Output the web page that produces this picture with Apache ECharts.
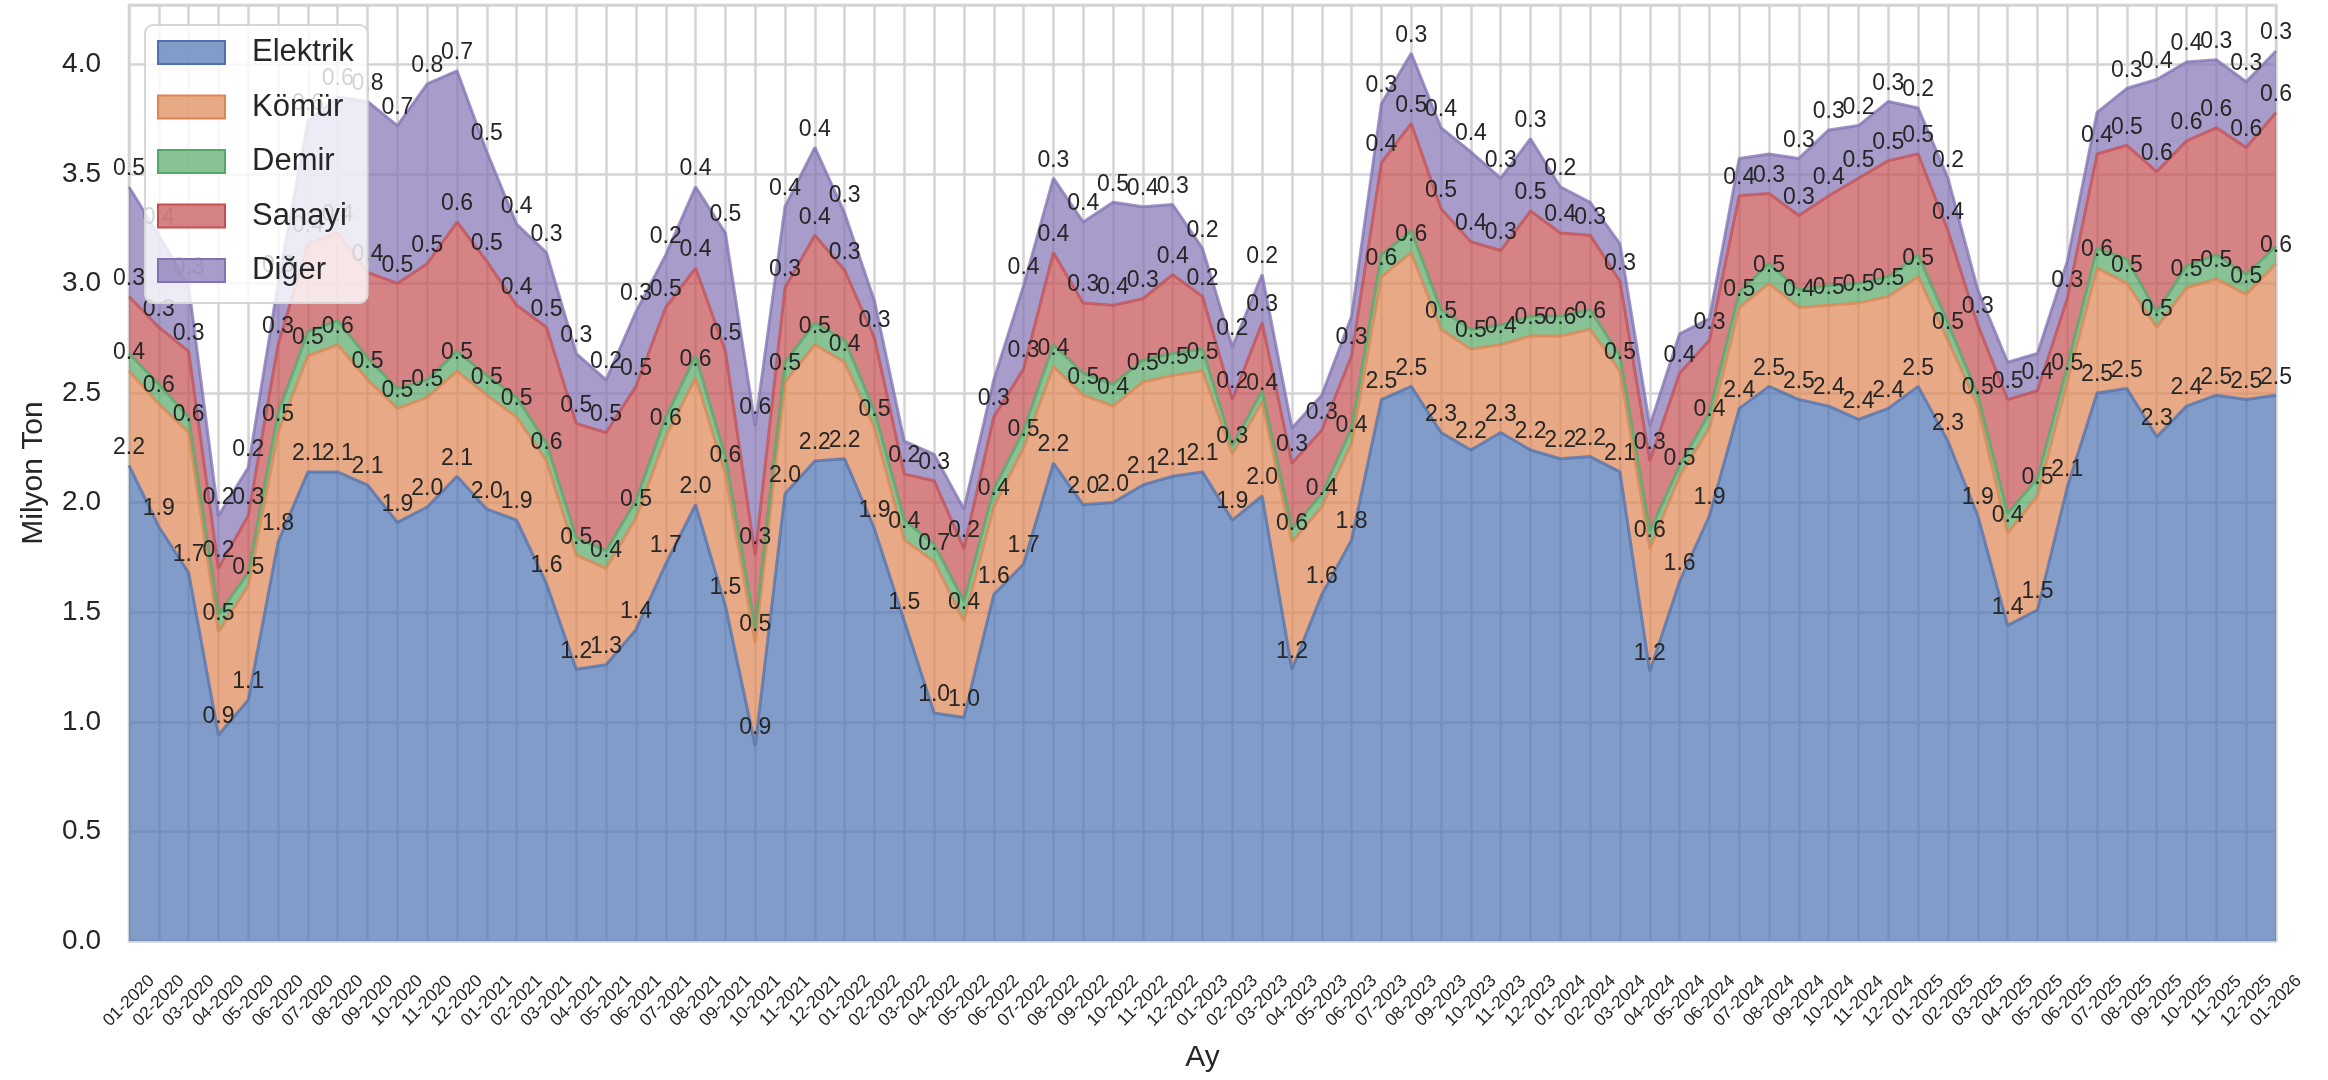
<!DOCTYPE html>
<html>
<head>
<meta charset="utf-8">
<script src="https://cdn.jsdelivr.net/npm/echarts@6/dist/echarts.min.js"></script>
<style>
html,body{margin:0;padding:0;background:#fff;}
#chart{width:2328px;height:1080px;}
</style>
</head>
<body>
<div id="chart"></div>
<script>
const months = ['01-2020','02-2020','03-2020','04-2020','05-2020','06-2020','07-2020','08-2020','09-2020','10-2020','11-2020','12-2020',
'01-2021','02-2021','03-2021','04-2021','05-2021','06-2021','07-2021','08-2021','09-2021','10-2021','11-2021','12-2021',
'01-2022','02-2022','03-2022','04-2022','05-2022','06-2022','07-2022','08-2022','09-2022','10-2022','11-2022','12-2022',
'01-2023','02-2023','03-2023','04-2023','05-2023','06-2023','07-2023','08-2023','09-2023','10-2023','11-2023','12-2023',
'01-2024','02-2024','03-2024','04-2024','05-2024','06-2024','07-2024','08-2024','09-2024','10-2024','11-2024','12-2024',
'01-2025','02-2025','03-2025','04-2025','05-2025','06-2025','07-2025','08-2025','09-2025','10-2025','11-2025','12-2025',
'01-2026'];

const seriesNames = ['Elektrik','Kömür','Demir','Sanayi','Diğer'];

const elektrik = [2.17,1.89,1.68,0.94,1.10,1.82,2.14,2.14,2.08,1.91,1.98,2.12,
1.97,1.92,1.63,1.24,1.26,1.42,1.72,1.99,1.53,0.89,2.04,2.19,
2.20,1.88,1.46,1.04,1.02,1.58,1.72,2.18,1.99,2.00,2.08,2.12,
2.14,1.92,2.03,1.24,1.58,1.83,2.47,2.53,2.32,2.24,2.32,2.24,
2.20,2.21,2.14,1.23,1.64,1.94,2.43,2.53,2.47,2.44,2.38,2.43,
2.53,2.28,1.94,1.44,1.51,2.07,2.50,2.52,2.30,2.44,2.49,2.47,
2.49];

const komur = [0.43,0.56,0.64,0.47,0.52,0.50,0.53,0.58,0.48,0.52,0.50,0.48,
0.52,0.47,0.56,0.52,0.44,0.51,0.58,0.58,0.60,0.47,0.51,0.53,
0.44,0.46,0.37,0.69,0.44,0.40,0.53,0.44,0.50,0.44,0.47,0.46,
0.46,0.30,0.43,0.58,0.40,0.44,0.56,0.61,0.47,0.46,0.40,0.52,
0.56,0.58,0.46,0.56,0.48,0.40,0.46,0.47,0.42,0.46,0.53,0.51,
0.50,0.46,0.50,0.42,0.52,0.48,0.57,0.48,0.50,0.54,0.53,0.48,
0.60];

const demir = [0.08,0.09,0.07,0.08,0.06,0.09,0.11,0.11,0.10,0.09,0.08,0.09,
0.09,0.09,0.08,0.08,0.08,0.08,0.09,0.10,0.08,0.07,0.09,0.10,
0.10,0.08,0.09,0.08,0.09,0.08,0.08,0.10,0.10,0.10,0.10,0.10,
0.10,0.04,0.05,0.06,0.06,0.07,0.10,0.10,0.09,0.09,0.09,0.09,
0.09,0.09,0.07,0.08,0.05,0.07,0.07,0.09,0.08,0.09,0.09,0.09,
0.10,0.08,0.05,0.09,0.08,0.07,0.09,0.11,0.07,0.10,0.11,0.09,
0.08];

const sanayi = [0.26,0.26,0.30,0.21,0.26,0.31,0.40,0.40,0.39,0.48,0.53,0.59,
0.52,0.42,0.53,0.52,0.54,0.52,0.50,0.40,0.48,0.33,0.34,0.40,
0.32,0.33,0.21,0.29,0.24,0.33,0.28,0.42,0.32,0.36,0.28,0.36,
0.24,0.21,0.31,0.30,0.29,0.33,0.42,0.49,0.46,0.40,0.34,0.48,
0.38,0.34,0.34,0.32,0.42,0.33,0.44,0.32,0.34,0.41,0.48,0.53,
0.46,0.42,0.32,0.52,0.40,0.31,0.43,0.52,0.64,0.57,0.58,0.58,
0.61];

const diger = [0.50,0.42,0.30,0.24,0.22,0.28,0.56,0.62,0.78,0.72,0.82,0.69,
0.50,0.37,0.34,0.32,0.24,0.34,0.24,0.37,0.54,0.59,0.37,0.40,
0.26,0.17,0.15,0.12,0.18,0.17,0.38,0.34,0.37,0.47,0.42,0.32,
0.22,0.24,0.22,0.16,0.16,0.18,0.27,0.32,0.37,0.41,0.33,0.33,
0.21,0.15,0.17,0.16,0.18,0.10,0.17,0.18,0.26,0.30,0.24,0.27,
0.21,0.24,0.16,0.17,0.17,0.17,0.19,0.26,0.42,0.36,0.31,0.30,
0.28];

const yTicks = [0.0,0.5,1.0,1.5,2.0,2.5,3.0,3.5,4.0];

const palette = ['#4C72B0','#DD8452','#55A868','#C44E52','#8172B3'];
const fills = ['rgba(76,114,176,0.7)','rgba(221,132,82,0.7)','rgba(85,168,104,0.7)','rgba(196,78,82,0.7)','rgba(129,114,179,0.7)'];
const FONT = 'Liberation Sans, Arial, Helvetica, sans-serif';

const allData = [elektrik, komur, demir, sanayi, diger];

const series = allData.map((d, k) => ({
  name: seriesNames[k],
  type: 'line',
  stack: 'total',
  data: d,
  smooth: false,
  symbol: 'circle',
  symbolSize: 1,
  showSymbol: true,
  showAllSymbol: true,
  itemStyle: {color: 'rgba(0,0,0,0)'},
  lineStyle: {color: palette[k], width: 3, opacity: 0.75},
  areaStyle: {color: palette[k], opacity: 0.7},
  label: {
    show: true,
    position: 'top',
    distance: 6,
    fontSize: 23,
    fontFamily: FONT,
    color: '#262626',
    opacity: 1,
    formatter: p => (p.value >= 0.2 ? p.value.toFixed(1) : '')
  },
  emphasis: {disabled: true},
  z: 2
}));

const chart = echarts.init(document.getElementById('chart'), null, {renderer: 'canvas'});
chart.setOption({
  animation: false,
  backgroundColor: '#ffffff',
  textStyle: {fontFamily: FONT},
  grid: {left: 129, right: 52, top: 5, bottom: 139, show: true, borderColor: '#cccccc', borderWidth: 2.5},
  legend: {
    z: 20,
    orient: 'vertical',
    left: 145, top: 25,
    padding: [12, 14, 17, 12],
    itemWidth: 67, itemHeight: 23, itemGap: 23.5,
    icon: 'rect',
    backgroundColor: 'rgba(255,255,255,0.8)',
    borderColor: '#d6d6d6', borderWidth: 2, borderRadius: 8,
    textStyle: {fontSize: 31, color: '#262626', fontFamily: FONT, padding: [0, 0, 0, 22]},
    data: seriesNames.map((n, k) => ({name: n, itemStyle: {color: fills[k], borderColor: palette[k], borderWidth: 2, opacity: 1}}))
  },
  xAxis: {
    type: 'category',
    data: months,
    boundaryGap: false,
    axisLine: {show: false},
    axisTick: {show: false},
    axisLabel: {interval: 0, rotate: 45, align: 'center', verticalAlign: 'middle', margin: 60, fontSize: 17.5, color: '#262626', fontFamily: FONT},
    splitLine: {show: true, interval: 0, lineStyle: {color: '#d4d4d4', width: 2.5}},
    name: 'Ay', nameLocation: 'middle', nameGap: 102,
    nameTextStyle: {fontSize: 30, color: '#262626', fontFamily: FONT}
  },
  yAxis: {
    type: 'value',
    min: 0, max: 4.27, interval: 0.5,
    axisLine: {show: false},
    axisTick: {show: false},
    axisLabel: {fontSize: 28, color: '#262626', fontFamily: FONT, margin: 28, showMaxLabel: false,
      formatter: v => (yTicks.indexOf(Math.round(v * 10) / 10) >= 0 ? v.toFixed(1) : '')},
    splitLine: {show: true, lineStyle: {color: '#d4d4d4', width: 2.5}},
    name: 'Milyon Ton', nameLocation: 'middle', nameGap: 80, nameRotate: 90,
    nameTextStyle: {fontSize: 30, color: '#262626', fontFamily: FONT}
  },
  series: series
});
</script>
</body>
</html>
